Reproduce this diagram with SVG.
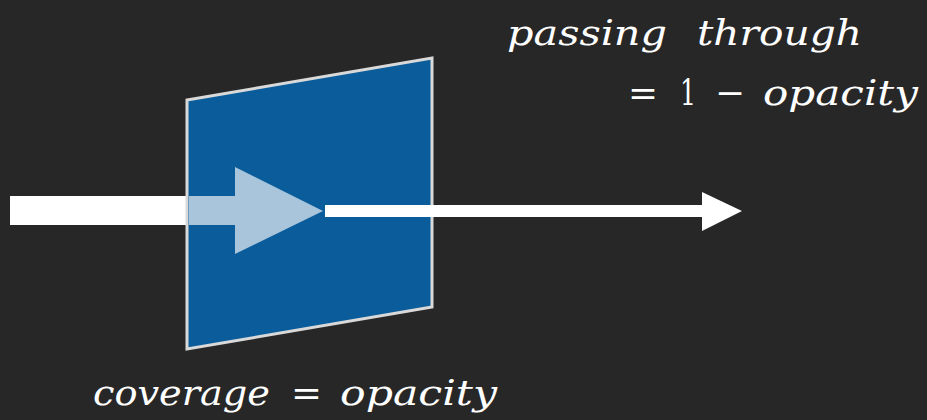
<svg xmlns="http://www.w3.org/2000/svg" width="927" height="420" viewBox="0 0 927 420">
<style>
.t{font-family:"DejaVu Serif","Liberation Serif",serif;font-style:italic;font-size:36px;fill:#ffffff}
.u{font-family:"DejaVu Serif","Liberation Serif",serif;font-style:normal;font-size:36px;fill:#ffffff}
</style>
<rect width="927" height="420" fill="#272727"/>
<g id="inArrowOuter">
<rect x="10" y="196" width="178" height="29" fill="#ffffff"/>
</g>
<g id="panel">
<polygon points="187,100 432,58 432,307 187,349" fill="#0b5c9b" stroke="#d9d9d9" stroke-width="3" stroke-linejoin="miter"/>
</g>
<g id="connectors">
<polygon points="189,196 235,196 235,167 323,211 235,254 235,225 189,225" fill="#a9c5dc"/>
<polygon points="325,205 702,205 702,192 742,211 702,231 702,217 325,217" fill="#ffffff"/>
</g>
<g id="labels">
<text class="t" x="507" y="45" textLength="160" lengthAdjust="spacingAndGlyphs">passing</text>
<text class="t" x="697" y="45" textLength="165" lengthAdjust="spacingAndGlyphs">through</text>
<text class="u" x="628" y="105" textLength="30" lengthAdjust="spacingAndGlyphs">=</text>
<text class="u" x="680" y="105" textLength="16" lengthAdjust="spacingAndGlyphs">1</text>
<text class="u" x="715" y="105" textLength="30" lengthAdjust="spacingAndGlyphs">−</text>
<text class="t" x="763" y="105" textLength="155" lengthAdjust="spacingAndGlyphs">opacity</text>
<text class="t" x="93" y="405" textLength="177" lengthAdjust="spacingAndGlyphs">coverage</text>
<text class="u" x="291" y="405" textLength="31" lengthAdjust="spacingAndGlyphs">=</text>
<text class="t" x="340" y="405" textLength="157" lengthAdjust="spacingAndGlyphs">opacity</text>
</g>
</svg>
